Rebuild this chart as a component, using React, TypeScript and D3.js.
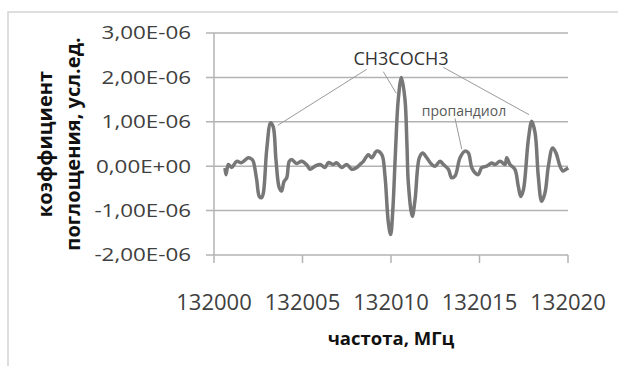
import React from "react";
import * as d3 from "d3";

// frequency offsets from 132000 MHz
const freqOffset = [
  0.62, 0.68, 0.81, 1.0, 1.28, 1.56, 1.94, 2.13, 2.22, 2.41, 2.56, 2.69, 2.79, 2.98, 3.2, 3.35,
  3.5, 3.69, 3.82, 3.95, 4.11, 4.25, 4.39, 4.67, 4.95, 5.24, 5.42, 5.71, 5.99, 6.27, 6.46, 6.74,
  6.93, 7.21, 7.5, 7.78, 8.06, 8.25, 8.44, 8.72, 8.91, 9.2, 9.48, 9.66, 9.85, 9.98, 10.1, 10.25,
  10.41, 10.59, 10.79, 10.9, 10.98, 11.2, 11.36, 11.6, 11.79, 12.02, 12.3, 12.49, 12.77, 12.96,
  13.24, 13.43, 13.62, 13.9, 14.18, 14.37, 14.56, 14.75, 14.93, 15.12, 15.41, 15.69, 15.88, 16.16,
  16.44, 16.54, 16.72, 17.0, 17.19, 17.33, 17.48, 17.76, 17.95, 18.14, 18.32, 18.51, 18.7, 18.89,
  19.13, 19.32, 19.55, 19.73, 19.89, 20.02,
];
// absorption coefficient, units of 1e-6
const absorption = [
  -0.04, -0.19, 0.04, -0.03, 0.11, 0.08, 0.19, 0.16, 0.11, -0.3, -0.68, -0.71, -0.6, 0.38, 0.98, 0.88,
  0.15, -0.49, -0.56, -0.35, -0.26, 0.11, 0.15, 0.06, 0.11, 0.03, -0.07, 0.0, 0.04, -0.03, 0.08, 0.04,
  0.08, -0.03, 0.04, -0.07, -0.03, 0.04, 0.11, 0.26, 0.19, 0.34, 0.26, -0.22, -1.27, -1.54, -1.0, 0.3,
  1.5, 2.0, 1.5, 0.5, -0.38, -1.13, -0.75, 0.19, 0.3, 0.19, 0.04, 0.0, 0.11, 0.04,
  -0.07, -0.26, -0.22, 0.19, 0.34, 0.3, -0.03, -0.15, -0.19, -0.03, 0.0, 0.07, 0.04, 0.11,
  0.04, 0.19, 0.04, -0.07, -0.45, -0.68, -0.53, 0.6, 1.01, 0.75, -0.22, -0.79, -0.6, 0.0,
  0.41, 0.3, 0.0, -0.11, -0.07, -0.04,
];

const xTicks = [132000, 132005, 132010, 132015, 132020];
const yTicks = [3, 2, 1, 0, -1, -2];
const yTickLabels = ["3,00E-06", "2,00E-06", "1,00E-06", "0,00E+00", "-1,00E-06", "-2,00E-06"];

const xTitle = "частота, МГц";
const yTitle = ["коэффициент", "поглощения, усл.ед."];
const annoMain = "CH3COCH3";
const annoMinor = "пропандиол";

export default function App() {
  const W = 618, H = 366;
  const left = 214, right = 568, top = 33, bottom = 255;
  const x = d3.scaleLinear().domain([132000, 132020]).range([left, right]);
  const y = d3.scaleLinear().domain([-2, 3]).range([bottom, top]);
  const pts = freqOffset.map((f, i) => [132000 + f, absorption[i]] as [number, number]);
  const line = d3
    .line<[number, number]>()
    .x((d) => x(d[0]))
    .y((d) => y(d[1]))
    .curve(d3.curveCatmullRom.alpha(0.5));

  const font = "'Open Sans', sans-serif";
  const grid = "#b3b3b3";

  const leaders: [number, number, number, number][] = [
    [366.7, 69.3, x(132003.6), y(0.92)],
    [383.3, 71.7, x(132010.3), y(1.64)],
    [443.3, 67.3, x(132017.8), y(1.16)],
  ];

  return (
    <svg
      width={W}
      height={H}
      style={{ position: "absolute", left: 0, top: 0, background: "#fff" }}
    >
      <rect x={8} y={12} width={640} height={400} fill="#fff" stroke="#d4d4d4" strokeWidth={1.5} />
      {yTicks.map((t) => (
        <line key={"g" + t} x1={left - 8} x2={right} y1={y(t)} y2={y(t)} stroke={grid} strokeWidth={1.5} />
      ))}
      <line x1={left} x2={left} y1={top} y2={bottom} stroke={grid} strokeWidth={1.5} />
      {xTicks.map((t) => (
        <line key={"xt" + t} x1={x(t)} x2={x(t)} y1={bottom} y2={bottom + 8} stroke={grid} strokeWidth={1.5} />
      ))}
      {yTicks.map((t, i) => (
        <text
          key={"yl" + t}
          transform={`translate(191,${y(t)}) scale(1.28,1)`}
          dy="0.36em"
          textAnchor="end"
          fontFamily={font}
          fontSize={17.5}
          fill="#404040"
        >
          {yTickLabels[i]}
        </text>
      ))}
      {xTicks.map((t) => (
        <text
          key={"xl" + t}
          x={x(t)}
          y={302}
          dy="0.36em"
          textAnchor="middle"
          fontFamily={font}
          fontSize={22}
          fill="#404040"
        >
          {t}
        </text>
      ))}
      <text x={(left + right) / 2} y={338} dy="0.36em" textAnchor="middle" fontFamily={font} fontSize={18.5} fontWeight="bold" fill="#111">
        {xTitle}
      </text>
      {yTitle.map((s, i) => (
        <text
          key={"yt" + i}
          transform={`translate(${45 + i * 28},${(top + bottom) / 2}) rotate(-90)`}
          dy="0.36em"
          textAnchor="middle"
          fontFamily={font}
          fontSize={20}
          fontWeight="bold"
          fill="#111"
        >
          {s}
        </text>
      ))}
      <path d={line(pts) || ""} fill="none" stroke="#777" strokeWidth={3.5} strokeLinejoin="round" />
      {leaders.map((l, i) => (
        <line key={"ld" + i} x1={l[0]} y1={l[1]} x2={l[2]} y2={l[3]} stroke="#9a9a9a" strokeWidth={1} />
      ))}
      <line x1={455} y1={118.3} x2={x(132014.0)} y2={y(0.38)} stroke="#9a9a9a" strokeWidth={1} />
      <text x={401} y={58.5} dy="0.36em" textAnchor="middle" fontFamily={font} fontSize={18} fill="#333">
        {annoMain}
      </text>
      <text x={464} y={111} dy="0.36em" textAnchor="middle" fontFamily={font} fontSize={14} fill="#595959">
        {annoMinor}
      </text>
    </svg>
  );
}
